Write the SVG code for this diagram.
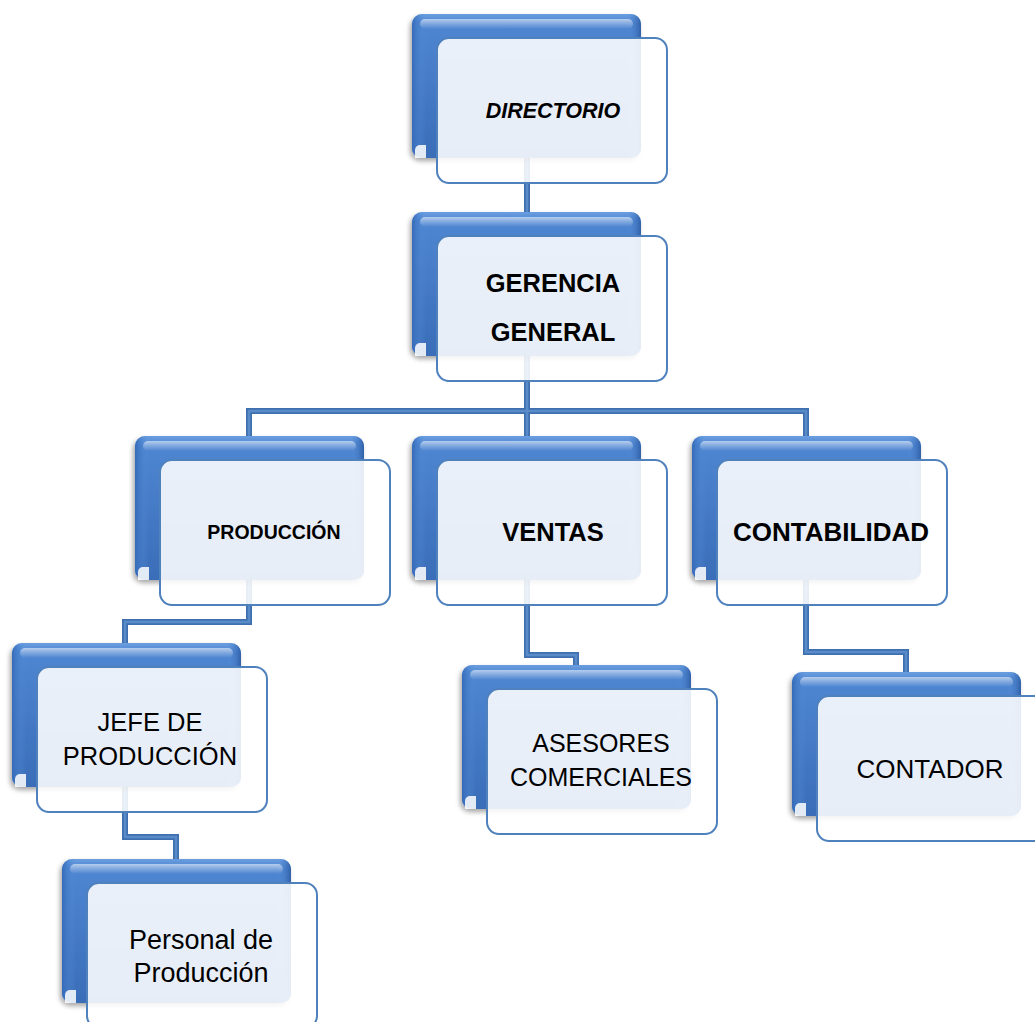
<svg xmlns="http://www.w3.org/2000/svg" width="1035" height="1022" viewBox="0 0 1035 1022">
<defs>
<linearGradient id="blueG" x1="0" y1="0" x2="0" y2="1">
<stop offset="0" stop-color="#6a9ee0"/>
<stop offset="0.06" stop-color="#4f86d2"/>
<stop offset="1" stop-color="#3a6db8"/>
</linearGradient>
<linearGradient id="blueH" x1="0" y1="0" x2="1" y2="0">
<stop offset="0" stop-color="#346ab8"/>
<stop offset="0.06" stop-color="#5b93dc" stop-opacity="0"/>
<stop offset="0.94" stop-color="#5b93dc" stop-opacity="0"/>
<stop offset="1" stop-color="#2f60a8"/>
</linearGradient>
<linearGradient id="gloss" x1="0" y1="0" x2="0" y2="1">
<stop offset="0" stop-color="#ffffff" stop-opacity="0.55"/>
<stop offset="1" stop-color="#ffffff" stop-opacity="0"/>
</linearGradient>
<filter id="sh" x="-10%" y="-10%" width="125%" height="125%">
<feDropShadow dx="-2" dy="3" stdDeviation="2.5" flood-color="#000" flood-opacity="0.35"/>
</filter>
<g id="card">
<rect x="0" y="0" width="229" height="144" rx="10" fill="url(#blueG)" filter="url(#sh)"/>
<rect x="0" y="0" width="229" height="144" rx="10" fill="url(#blueH)"/>
<rect x="8" y="5" width="213" height="10" rx="5" fill="url(#gloss)"/>
<path d="M3 144 v-8 a5 5 0 0 1 5 -5 h6 v13 z" fill="#ffffff" opacity="0.85"/>
<rect x="25" y="24" width="230" height="145" rx="12" fill="#ffffff" fill-opacity="0.88" stroke="#4f81bd" stroke-width="2"/>
</g>
</defs>
<style>
.conn{fill:none;stroke:#3f6fae;stroke-width:6;stroke-linejoin:miter}
.connin{fill:none;stroke:#5a8bc9;stroke-width:2.5;stroke-linejoin:miter}
text{font-family:"Liberation Sans",Arial,sans-serif;fill:#000;text-anchor:middle}
.b{font-weight:bold}
</style>
<g id="connectors">
<path class="conn" d="M527 150 V220"/>
<path class="conn" d="M527 350 V411 M249 440 V411 H806 V440 M527 411 V440"/>
<path class="conn" d="M249 575 V622 H125 V648"/>
<path class="conn" d="M125 780 V837 H176 V864"/>
<path class="conn" d="M527 575 V655 H576 V670"/>
<path class="conn" d="M806 575 V652 H906 V676"/>
<path class="connin" d="M527 150 V220"/>
<path class="connin" d="M527 350 V411 M249 440 V411 H806 V440 M527 411 V440"/>
<path class="connin" d="M249 575 V622 H125 V648"/>
<path class="connin" d="M125 780 V837 H176 V864"/>
<path class="connin" d="M527 575 V655 H576 V670"/>
<path class="connin" d="M806 575 V652 H906 V676"/>
</g>
<g id="directorio">
<use href="#card" x="412" y="14"/>
<text x="553" y="118" font-size="21.5" font-weight="bold" font-style="italic">DIRECTORIO</text>
</g>
<g id="gerencia">
<use href="#card" x="412" y="212"/>
<text class="b" x="553" y="292" font-size="25.5">GERENCIA</text>
<text class="b" x="553" y="341" font-size="25.5">GENERAL</text>
</g>
<g id="produccion">
<use href="#card" x="135" y="436"/>
<text class="b" x="274" y="539" font-size="19.5">PRODUCCIÓN</text>
</g>
<g id="ventas">
<use href="#card" x="412" y="436"/>
<text class="b" x="553" y="541" font-size="25.5">VENTAS</text>
</g>
<g id="contabilidad">
<use href="#card" x="692" y="436"/>
<text class="b" x="831" y="541" font-size="26">CONTABILIDAD</text>
</g>
<g id="jefe">
<use href="#card" x="12" y="643"/>
<text x="150" y="731" font-size="25.5">JEFE DE</text>
<text x="150" y="765" font-size="25.5">PRODUCCIÓN</text>
</g>
<g id="personal">
<use href="#card" x="62" y="859"/>
<text x="201" y="949" font-size="27">Personal de</text>
<text x="201" y="982" font-size="27">Producción</text>
</g>
<g id="asesores">
<use href="#card" x="462" y="665"/>
<text x="601" y="752" font-size="25">ASESORES</text>
<text x="601" y="786" font-size="25">COMERCIALES</text>
</g>
<g id="contador">
<use href="#card" x="792" y="672"/>
<text x="930" y="778" font-size="26">CONTADOR</text>
</g>
</svg>
